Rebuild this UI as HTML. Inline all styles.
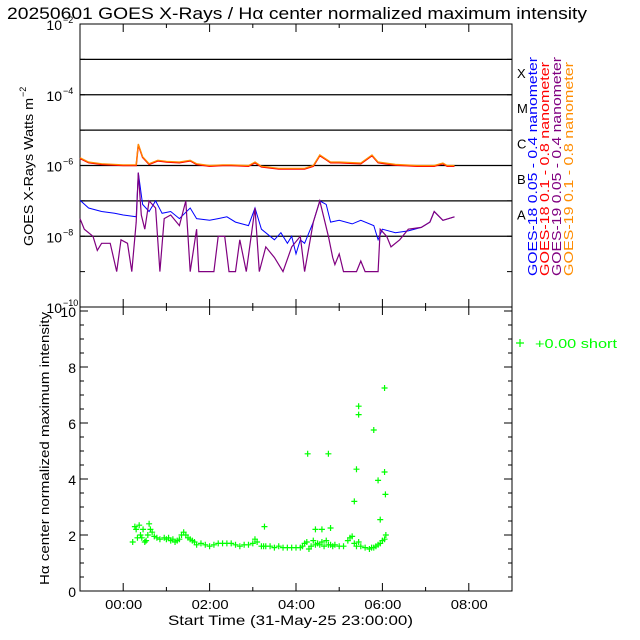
<!DOCTYPE html>
<html><head><meta charset="utf-8"><style>
html,body{margin:0;padding:0;background:#fff;}
svg{display:block;font-family:"Liberation Sans",sans-serif;}
</style></head><body>
<svg id="c" width="640" height="640" xmlns="http://www.w3.org/2000/svg">
<text x="7" y="19" font-size="17" textLength="580" lengthAdjust="spacingAndGlyphs">20250601 GOES X-Rays / Hα center normalized maximum intensity</text>
</svg>
<script>
// ---- data ----
const orangeT=[-1,-0.8,-0.5,0,0.3,0.35,0.45,0.6,0.8,1.0,1.3,1.55,1.7,2.0,2.3,2.5,2.9,3.05,3.2,3.6,4.0,4.2,4.4,4.55,4.7,4.8,5.0,5.5,5.76,5.9,6.3,6.8,7.2,7.4,7.5,7.67];
const orangeV=[-5.78,-5.9,-5.95,-5.98,-5.98,-5.39,-5.75,-5.95,-5.85,-5.88,-5.9,-5.85,-5.95,-6.0,-5.98,-5.98,-6.0,-5.9,-6.02,-6.08,-6.08,-6.08,-6.0,-5.7,-5.82,-5.9,-5.9,-5.93,-5.7,-5.9,-5.97,-6.0,-6.0,-5.93,-6.0,-6.0];
const blueT=[-1,-0.8,-0.5,-0.2,0,0.3,0.35,0.45,0.6,0.75,0.9,1.1,1.3,1.55,1.7,2.0,2.2,2.4,2.6,2.9,3.05,3.2,3.5,3.65,3.8,3.9,4.0,4.1,4.2,4.4,4.55,4.7,4.8,5.0,5.3,5.5,5.8,5.9,6.0,6.3,6.6,6.9,7.1,7.2,7.4,7.67];
const blueV=[-6.98,-7.2,-7.3,-7.35,-7.4,-7.45,-6.2,-7.1,-7.3,-7.0,-7.35,-7.3,-7.5,-7.2,-7.5,-7.55,-7.5,-7.45,-7.6,-7.7,-7.2,-7.8,-8.1,-7.9,-8.2,-8.0,-8.5,-8.1,-8.2,-7.6,-7.0,-7.1,-7.6,-7.55,-7.65,-7.55,-7.7,-8.1,-7.8,-7.9,-7.85,-7.75,-7.6,-7.3,-7.55,-7.45];
const purpleT=[-1,-0.9,-0.7,-0.6,-0.5,-0.3,-0.15,-0.05,0.1,0.2,0.3,0.35,0.42,0.5,0.6,0.75,0.85,0.95,1.1,1.3,1.45,1.55,1.7,1.75,2.1,2.2,2.35,2.45,2.6,2.7,2.85,3.05,3.15,3.3,3.5,3.7,3.9,4.1,4.2,4.4,4.55,4.75,4.85,4.9,5.0,5.1,5.4,5.5,5.6,5.9,5.95,6.1,6.2,6.4,6.6,6.9,7.1,7.2,7.4,7.67];
const purpleV=[-7.5,-7.8,-8.0,-8.4,-8.2,-8.2,-9.0,-8.1,-8.2,-9.0,-7.6,-6.2,-7.4,-7.8,-7.0,-7.2,-9.0,-7.5,-7.4,-7.7,-7.0,-9.0,-7.8,-9.0,-9.0,-8.0,-8.0,-9.0,-9.0,-8.1,-9.0,-7.2,-9.0,-8.3,-8.6,-9.0,-8.3,-8.0,-9.0,-7.6,-7.0,-8.0,-8.6,-8.8,-8.5,-9.0,-9.0,-8.7,-9.0,-9.0,-7.8,-8.0,-8.3,-8.1,-7.8,-7.75,-7.6,-7.3,-7.55,-7.45];
const haT=[0.22,0.27,0.3,0.33,0.37,0.4,0.43,0.46,0.5,0.53,0.57,0.6,0.63,0.67,0.72,0.78,0.85,0.95,1.0,1.05,1.1,1.15,1.2,1.25,1.3,1.35,1.4,1.45,1.5,1.55,1.6,1.65,1.7,1.8,1.9,2.0,2.1,2.2,2.3,2.4,2.5,2.6,2.7,2.8,2.9,3.0,3.05,3.1,3.2,3.25,3.3,3.4,3.5,3.6,3.7,3.8,3.9,4.0,4.1,4.15,4.2,4.25,4.3,4.35,4.4,4.45,4.5,4.55,4.6,4.65,4.7,4.75,4.8,4.85,4.9,5.0,5.1,5.2,5.25,5.3,5.35,5.4,5.45,5.5,5.6,5.7,5.75,5.8,5.85,5.9,5.95,6.0,6.05,6.08,5.4,5.45,5.45,5.35,5.8,6.05,5.9,6.05,6.07,5.95,4.27,4.75,3.27,4.45,4.6,4.8];
const haV=[1.75,2.3,2.2,1.9,2.35,2.0,1.9,2.2,1.75,1.8,2.0,2.4,2.2,2.1,1.95,1.9,1.85,1.9,1.85,1.9,1.8,1.85,1.75,1.8,1.85,2.0,2.1,2.0,1.9,1.85,1.8,1.75,1.65,1.7,1.65,1.6,1.65,1.7,1.7,1.7,1.7,1.65,1.6,1.65,1.65,1.7,1.85,1.75,1.6,1.6,1.6,1.6,1.55,1.6,1.55,1.55,1.55,1.55,1.55,1.6,1.7,1.75,1.5,1.6,1.8,1.65,1.7,1.65,1.75,1.6,1.8,1.65,1.65,1.6,1.65,1.6,1.6,1.8,1.9,1.95,1.7,1.6,1.75,1.6,1.55,1.5,1.55,1.55,1.6,1.65,1.7,1.8,1.85,2.0,4.35,6.6,6.3,3.2,5.75,7.25,3.95,4.25,3.45,2.55,4.9,4.9,2.3,2.2,2.2,2.25];
const hourTicks=[0,2,4,6,8];
const hourLabels=["00:00","02:00","04:00","06:00","08:00"];
const logTicks=[-2,-4,-6,-8,-10];
const haTicks=[0,2,4,6,8,10];
const flareLetters=["X","M","C","B","A"];
const flareLevels=[-4,-5,-6,-7,-8];

// ---- layout ----
const NS="http://www.w3.org/2000/svg";
const svg=document.getElementById('c');
const L=80,R=512,T=24,MID=307,B=591;
const xS=h=>L+(h+1)/10*(R-L);
const yTop=lv=>T+(-2-lv)/8*(MID-T);
const yBot=v=>B-v/10*(B-311);
function el(tag,attrs,txt){const e=document.createElementNS(NS,tag);for(const k in attrs)e.setAttribute(k,attrs[k]);if(txt!==undefined)e.textContent=txt;svg.appendChild(e);return e;}

for(let lv=-3;lv>=-8;lv--){
  const l=el('line',{x1:L,x2:R,y1:yTop(lv),y2:yTop(lv),stroke:'#000','stroke-width':1.3});
  
  
}
const f1=el('rect',{x:L,y:T,width:R-L,height:MID-T,fill:'none',stroke:'#000','stroke-width':1});


const f2=el('rect',{x:L,y:MID,width:R-L,height:B-MID,fill:'none',stroke:'#000','stroke-width':1});



for(let h=-1;h<=9;h++){
  const major=(h%2===0);const len=major?8:4;const x=xS(h);
  [[T,T+len],[MID,MID-len],[MID,MID+len],[B,B-len]].forEach(p=>{
    const t=el('line',{x1:x,x2:x,y1:p[0],y2:p[1],stroke:'#000'});
    
    
  });
}
hourTicks.forEach((h,i)=>{
  const t=el('text',{x:xS(h)-18,y:609,'font-size':13,textLength:37,lengthAdjust:'spacingAndGlyphs'},hourLabels[i]);
  
  
});
const xt=el('text',{x:168,y:625,'font-size':14,textLength:245,lengthAdjust:'spacingAndGlyphs'},'Start Time (31-May-25 23:00:00)');



logTicks.forEach(lv=>{
  const y=yTop(lv);
  const t=el('text',{x:62,y:y+6,'font-size':14,'text-anchor':'end'},'10');
  
  
  const s=el('text',{x:63,y:y-1,'font-size':9},'−'+(-lv));
  
  
});
for(let lv=-2;lv>=-10;lv--){
  [[L,L+5],[R,R-5]].forEach(p=>{
    const t=el('line',{x1:p[0],x2:p[1],y1:yTop(lv),y2:yTop(lv),stroke:'#000'});
    
    
  });
}
const yt1=el('text',{x:0,y:0,'font-size':13,textLength:148,lengthAdjust:'spacingAndGlyphs',transform:'translate(33,246) rotate(-90)'},'GOES X-Rays Watts m');


const ys=el('text',{x:0,y:0,'font-size':9,transform:'translate(26,97) rotate(-90)'},'−2');



haTicks.forEach(v=>{
  const t=el('text',{x:76,y:yBot(v)+6,'font-size':14,'text-anchor':'end'},String(v));
  
  
});
for(let k=0;k<=20;k++){
  const v=k/2;const len=(k%4===0)?8:4;
  [[L,L+len],[R,R-len]].forEach(p=>{
    const t=el('line',{x1:p[0],x2:p[1],y1:yBot(v),y2:yBot(v),stroke:'#000'});
    
    
  });
}
const yt2=el('text',{x:0,y:0,'font-size':13,textLength:273,lengthAdjust:'spacingAndGlyphs',transform:'translate(49,585) rotate(-90)'},'Hα center normalized maximum intensity');



function series(ts,vs,color,name,w){
  let d='';ts.forEach((t,i)=>{d+=(i?'L':'M')+xS(t).toFixed(1)+','+yTop(vs[i]).toFixed(1);});
  const p=el('path',{d:d,fill:'none',stroke:color,'stroke-width':w});
  
  
}
series(orangeT,orangeV.map(v=>v-0.02),'#ff0000','goes18-long-line',1.5);
series(orangeT,orangeV,'#ff8c00','goes19-long-line',1.2);
series(blueT,blueV,'#0000ff','goes18-short-line',1);
series(purpleT,purpleV,'#800080','goes19-short-line',1.2);

flareLetters.forEach((c,i)=>{
  const t=el('text',{x:517,y:yTop(flareLevels[i])-17,'font-size':13},c);
  
  
});
const leg=[['GOES-18 0.05 - 0.4 nanometer','#0000ff',537,219],['GOES-18 0.1 - 0.8 nanometer','#ff0000',549,214],['GOES-19 0.05 - 0.4 nanometer','#800080',561,219],['GOES-19 0.1 - 0.8 nanometer','#ff8c00',573,214]];
leg.forEach(l=>{
  const t=el('text',{x:0,y:0,'font-size':13,fill:l[1],textLength:l[3],lengthAdjust:'spacingAndGlyphs',transform:'translate('+l[2]+',276) rotate(-90)'},l[0]);
  
  
});

haT.forEach((t,i)=>{
  const x=xS(t),y=yBot(haV[i]);
  const p=el('path',{d:`M${x-3},${y}H${x+3}M${x},${y-3}V${y+3}`,stroke:'#00ff00','stroke-width':1.2});
  
  
});
const lp=el('path',{d:'M516,343H524M520,339V347',stroke:'#00ff00','stroke-width':1.2});


const lt=el('text',{x:535,y:348,'font-size':13,fill:'#00ff00',textLength:82,lengthAdjust:'spacingAndGlyphs'},'+0.00 short');


</script>
</body></html>
